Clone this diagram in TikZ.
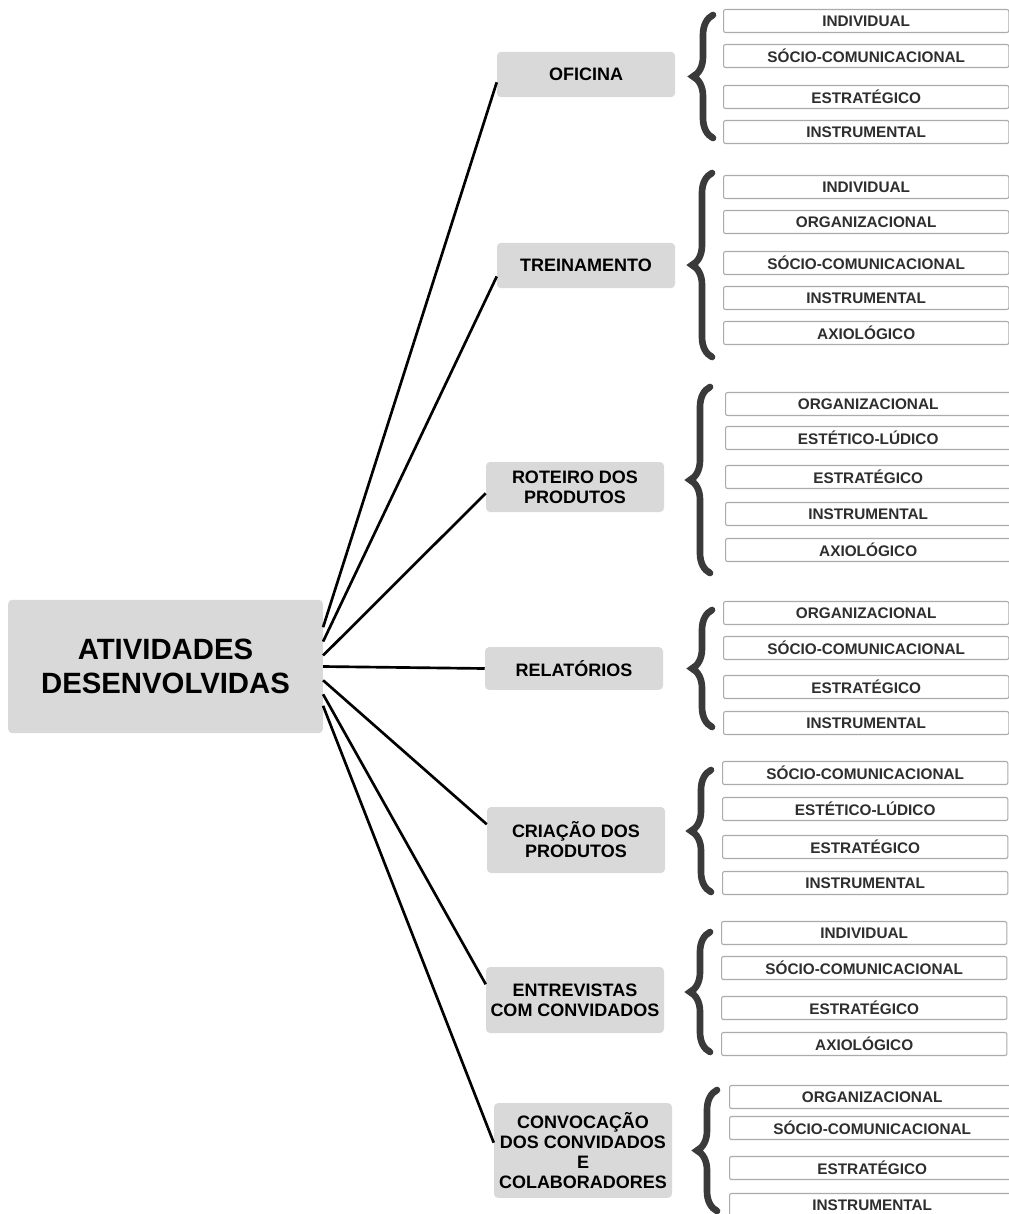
\documentclass[tikz,border=0pt]{standalone}
\usepackage{fontspec}
\setmainfont{Liberation Sans}
\usepackage{tikz}
\usetikzlibrary{decorations.pathreplacing}
\definecolor{boxgray}{HTML}{D9D9D9}
\definecolor{rimgray}{HTML}{ABABAB}
\definecolor{brcgray}{HTML}{3A3A3A}
\definecolor{txtgray}{HTML}{2E2E2E}

\begin{document}
\begin{tikzpicture}[x=0.75pt,y=-0.75pt,
    root/.style={fill=boxgray,rounded corners=3pt,align=center,minimum width=236pt,minimum height=100pt,font=\fontsize{22}{26}\selectfont\bfseries},
    act/.style={fill=boxgray,rounded corners=3pt,align=center,minimum width=133.5pt,inner sep=2pt,font=\fontsize{13.5}{15}\selectfont\bfseries},
    item/.style={draw=rimgray,line width=0.8pt,fill=white,rounded corners=1.5pt,anchor=west,minimum width=214pt,minimum height=17.25pt,inner sep=1pt,text=txtgray,font=\fontsize{11.5}{12}\selectfont\bfseries},
    brc/.style={draw=brcgray,line width=5pt,line cap=round,decorate,decoration={brace,amplitude=15pt}},
    link/.style={line width=2pt}]
  \useasboundingbox (0,0) rectangle (1009,1214);
  \node[root] (main) at (165.5,666.5) {ATIVIDADES\\DESENVOLVIDAS};
  \node[act,minimum height=34pt]   (ofi)  at (586,74.5)   {OFICINA};
  \node[act,minimum height=34pt]   (trei) at (586,265.5)  {TREINAMENTO};
  \node[act,minimum height=37.5pt] (rot)  at (575,487)    {ROTEIRO DOS\\PRODUTOS};
  \node[act,minimum height=32pt]   (rel)  at (574,668.5)  {RELATÓRIOS};
  \node[act,minimum height=49.5pt] (cri)  at (576,840)    {CRIAÇÃO DOS\\PRODUTOS};
  \node[act,minimum height=49.5pt] (ent)  at (575,1000)   {ENTREVISTAS\\COM CONVIDADOS};
  \node[act,minimum height=71pt]   (conv) at (583,1150.5) {CONVOCAÇÃO\\DOS CONVIDADOS\\E\\COLABORADORES};
  \path[link]
    (main.14)   edge (ofi.185)
    (main.9)    edge (trei.187)
    (main.4)    edge (rot.184)
    (main.east) edge (rel.west)
    (main.-5)   edge (cri.170)
    (main.-10)  edge (ent.170)
    (main.-14)  edge (conv.175);
  % oficina
  \foreach \y/\t [count=\i] in {21/INDIVIDUAL,56/SÓCIO-COMUNICACIONAL,97/ESTRATÉGICO,132/INSTRUMENTAL}
    \node[item] (a\i) at (723,\y) {\t};
  \draw[brc] (713,138) -- (713,15);
  % treinamento
  \foreach \y/\t [count=\i] in {187/INDIVIDUAL,222/ORGANIZACIONAL,263/SÓCIO-COMUNICACIONAL,298/INSTRUMENTAL,333/AXIOLÓGICO}
    \node[item] (b\i) at (723,\y) {\t};
  \draw[brc] (712,357) -- (712,173);
  % roteiro
  \foreach \y/\t [count=\i] in {404/ORGANIZACIONAL,438/ESTÉTICO-LÚDICO,477/ESTRATÉGICO,514/INSTRUMENTAL,550/AXIOLÓGICO}
    \node[item] (c\i) at (725,\y) {\t};
  \draw[brc] (710,573) -- (710,387);
  % relatorios
  \foreach \y/\t [count=\i] in {613/ORGANIZACIONAL,648/SÓCIO-COMUNICACIONAL,687/ESTRATÉGICO,723/INSTRUMENTAL}
    \node[item] (d\i) at (723,\y) {\t};
  \draw[brc] (712,727) -- (712,610);
  % criacao
  \foreach \y/\t [count=\i] in {773/SÓCIO-COMUNICACIONAL,809/ESTÉTICO-LÚDICO,847/ESTRATÉGICO,883/INSTRUMENTAL}
    \node[item] (e\i) at (722,\y) {\t};
  \draw[brc] (711,892) -- (711,770);
  % entrevistas
  \foreach \y/\t [count=\i] in {933/INDIVIDUAL,968/SÓCIO-COMUNICACIONAL,1008/ESTRATÉGICO,1044/AXIOLÓGICO}
    \node[item] (f\i) at (721,\y) {\t};
  \draw[brc] (710,1052) -- (710,932);
  % convocacao
  \foreach \y/\t [count=\i] in {1097/ORGANIZACIONAL,1128/SÓCIO-COMUNICACIONAL,1168/ESTRATÉGICO,1205/INSTRUMENTAL}
    \node[item] (g\i) at (729,\y) {\t};
  \draw[brc] (717,1211) -- (717,1090);
\end{tikzpicture}
\end{document}
